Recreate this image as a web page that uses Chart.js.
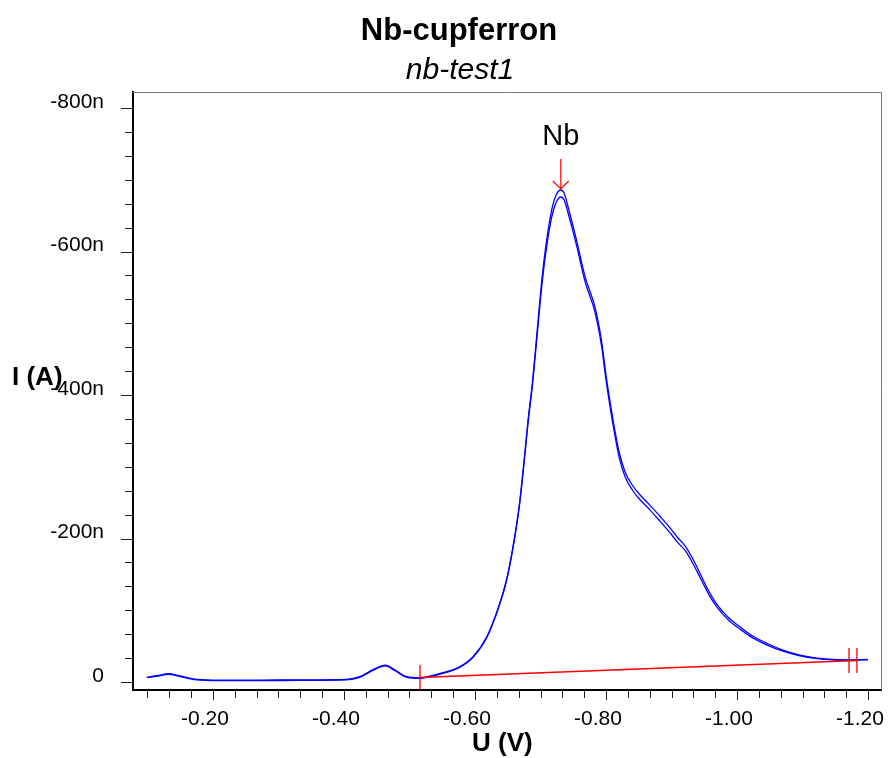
<!DOCTYPE html>
<html>
<head>
<meta charset="utf-8">
<title>Nb-cupferron</title>
<script src="https://cdn.jsdelivr.net/npm/chart.js@4.4.1/dist/chart.umd.min.js"></script>
<style>
  html, body { margin: 0; padding: 0; background: #fff; }
</style>
</head>
<body>
<canvas id="chart" width="888" height="758"></canvas>
<script>
// Potencjał (V)
const potential = [-0.099, -0.116, -0.132, -0.150, -0.175, -0.211, -0.272, -0.333, -0.404, -0.424,
  -0.445, -0.463, -0.478, -0.496, -0.516, -0.547, -0.575, -0.597, -0.618, -0.636,
  -0.648, -0.658, -0.668, -0.675, -0.681, -0.688, -0.695, -0.702, -0.708, -0.717,
  -0.724, -0.731, -0.736, -0.742, -0.755, -0.768, -0.783, -0.793, -0.800, -0.807,
  -0.814, -0.820, -0.829, -0.840, -0.852, -0.867, -0.882, -0.898, -0.910, -0.921,
  -0.931, -0.944, -0.956, -0.968, -0.986, -1.005, -1.024, -1.046, -1.070, -1.096,
  -1.122, -1.147, -1.173, -1.200];

// Prąd (nA) – skan 1 i skan 2
const scan1 = [-6.6, -9.1, -11.6, -8.4, -3.8, -2.8, -2.8, -3.1, -3.8, -7.4,
  -17.7, -23.7, -16.7, -7.4, -6.0, -12.1, -20.5, -35.3, -63.1, -104.9,
  -142.2, -188.6, -249.5, -309.4, -365.1, -420.9, -490.6, -560.3, -606.7, -657.8,
  -678.7, -685.7, -681.5, -662.4, -616.0, -564.9, -523.1, -476.6, -427.9, -386.1,
  -348.4, -320.6, -293.1, -274.6, -260.6, -246.6, -231.4, -214.6, -200.7, -189.5,
  -174.2, -150.5, -128.2, -110.1, -90.6, -76.7, -64.1, -53.7, -44.6, -37.6,
  -33.4, -31.4, -30.7, -31.4];
const scan2 = [-6.0, -8.4, -10.8, -7.6, -3.0, -2.0, -2.0, -2.3, -3.0, -6.6,
  -16.7, -22.5, -15.7, -6.6, -5.2, -11.1, -19.5, -34.3, -62.0, -103.5,
  -140.5, -186.5, -247.0, -306.0, -361.0, -416.0, -484.5, -552.0, -597.5, -647.5,
  -668.5, -676.0, -672.0, -654.0, -608.5, -558.0, -516.0, -469.5, -421.0, -379.0,
  -341.5, -313.5, -286.5, -268.0, -254.0, -240.0, -224.5, -207.5, -194.0, -183.0,
  -168.0, -145.0, -123.5, -106.0, -87.0, -73.5, -61.5, -51.5, -43.0, -36.3,
  -32.5, -30.8, -30.4, -31.2];

// Linia bazowa piku
const basePotential = [-0.516, -1.183];
const baseCurrent = [-6.3, -30.0];

// Znaczniki granic piku
const markerPotential = [-0.516, -1.171, -1.183];
const markerTop = [-23.7, -47.4, -47.4];
const markerBottom = [11.1, -12.5, -12.5];

// Opisane wartości osi
const xLabels = [-0.2, -0.4, -0.6, -0.8, -1.0, -1.2];
const yLabels = [0, -200, -400, -600, -800];

const peakName = "Nb";
const titleText = "Nb-cupferron";
const subtitleText = "nb-test1";

const FONT = "'Liberation Sans', Arial, Helvetica, sans-serif";
const BLUE = "rgb(0, 0, 255)";
const RED = "rgb(255, 0, 0)";

const toPoints = (xs, ys) => xs.map((x, i) => ({ x, y: ys[i] }));

const datasets = [];

datasets.push({
  data: toPoints(basePotential, baseCurrent),
  borderColor: RED,
  borderWidth: 1.3
});
markerPotential.forEach((u, i) => {
  datasets.push({
    data: [{ x: u, y: markerTop[i] }, { x: u, y: markerBottom[i] }],
    borderColor: RED,
    borderWidth: 1.3
  });
});
[scan1, scan2].forEach(scan => {
  datasets.push({
    data: toPoints(potential, scan),
    borderColor: BLUE,
    borderWidth: 1.3,
    cubicInterpolationMode: "monotone"
  });
});

// bez dodatkowego marginesu od etykiet skrajnych
function fixScale(s, size) {
  if (s.isHorizontal()) s.height = size; else s.width = size;
  s.paddingLeft = s.paddingRight = s.paddingTop = s.paddingBottom = 0;
}

// Podziałki, ramka, opisy i strzałka piku
const decorations = {
  id: "decorations",
  afterDraw(chart) {
    const { ctx, chartArea: a, scales: { x, y } } = chart;
    ctx.save();

    ctx.strokeStyle = "#777";
    ctx.lineWidth = 1;
    ctx.beginPath();
    ctx.moveTo(a.left, a.top + 0.5);
    ctx.lineTo(a.right + 0.5, a.top + 0.5);
    ctx.lineTo(a.right + 0.5, a.bottom);
    ctx.stroke();

    ctx.strokeStyle = "#222";
    for (let k = 0; k <= 24; k++) {
      const py = Math.round(y.getPixelForValue(-k * 200 / 6)) + 0.5;
      const len = k % 6 === 0 ? 12 : 8;
      ctx.beginPath();
      ctx.moveTo(a.left - len, py);
      ctx.lineTo(a.left - 1, py);
      ctx.stroke();
    }
    for (let k = 3; k <= 36; k++) {
      const px = Math.round(x.getPixelForValue(-k / 30)) + 0.5;
      const len = k % 6 === 0 ? 10 : 8;
      ctx.beginPath();
      ctx.moveTo(px, a.bottom + 1);
      ctx.lineTo(px, a.bottom + len);
      ctx.stroke();
    }

    ctx.fillStyle = "#000";
    ctx.textBaseline = "alphabetic";
    ctx.textAlign = "center";
    ctx.font = "bold 31px " + FONT;
    ctx.fillText(titleText, 459, 40);
    ctx.font = "italic 30px " + FONT;
    ctx.fillText(subtitleText, 460, 79);

    ctx.textAlign = "left";
    ctx.font = "bold 26px " + FONT;
    ctx.fillText("I (A)", 12, 385);
    ctx.fillText("U (V)", 472, 751);

    // strzałka nad maksimum piku
    let iMax = 0;
    scan1.forEach((v, i) => { if (v < scan1[iMax]) iMax = i; });
    const px = x.getPixelForValue(potential[iMax]);
    const py = y.getPixelForValue(scan1[iMax]);
    ctx.strokeStyle = RED;
    ctx.lineWidth = 1.2;
    ctx.beginPath();
    ctx.moveTo(px, py - 31);
    ctx.lineTo(px, py - 1);
    ctx.moveTo(px - 8, py - 9);
    ctx.lineTo(px, py - 1);
    ctx.lineTo(px + 8, py - 9);
    ctx.stroke();

    ctx.textAlign = "center";
    ctx.font = "29px " + FONT;
    ctx.fillText(peakName, px, py - 45);

    ctx.restore();
  }
};

new Chart(document.getElementById("chart"), {
  type: "scatter",
  data: { datasets },
  options: {
    responsive: false,
    animation: false,
    showLine: true,
    elements: { point: { radius: 0, hoverRadius: 0 } },
    layout: { autoPadding: false, padding: { left: 37, right: 7, top: 92, bottom: 0 } },
    plugins: {
      legend: { display: false },
      tooltip: { enabled: false }
    },
    scales: {
      x: {
        type: "linear",
        min: -1.2198,
        max: -0.0779,
        reverse: true,
        grid: { display: false },
        border: { display: true, color: "#000", width: 2 },
        afterBuildTicks: s => { s.ticks = xLabels.map(value => ({ value })); },
        ticks: {
          padding: 9,
          labelOffset: -8,
          maxRotation: 0,
          autoSkip: false,
          color: "#000",
          font: { family: FONT, size: 21 },
          callback: v => v.toFixed(2)
        },
        afterFit: s => fixScale(s, 68)
      },
      y: {
        min: -822.3,
        max: 11.1,
        reverse: true,
        grid: { display: false },
        border: { display: true, color: "#000", width: 2 },
        afterBuildTicks: s => { s.ticks = yLabels.map(value => ({ value })); },
        ticks: {
          padding: 21,
          labelOffset: -6,
          autoSkip: false,
          color: "#000",
          font: { family: FONT, size: 21 },
          callback: v => v === 0 ? "0" : v + "n"
        },
        afterFit: s => fixScale(s, 96)
      }
    }
  },
  plugins: [decorations]
});
</script>
</body>
</html>
